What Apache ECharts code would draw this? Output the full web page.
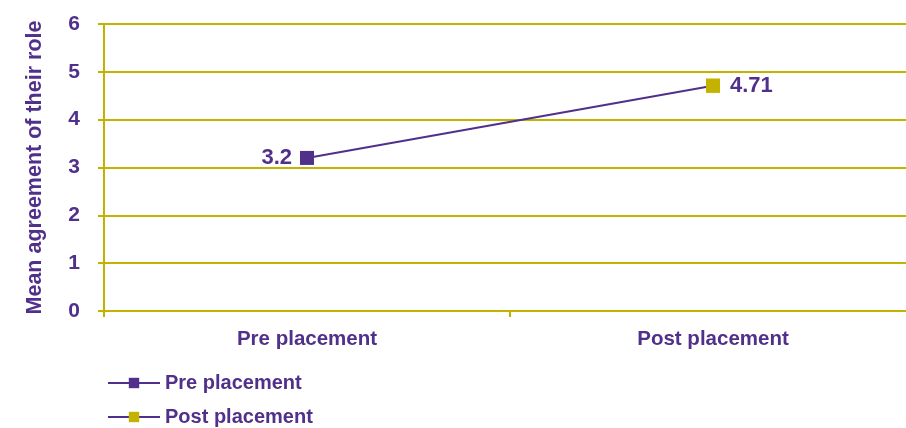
<!DOCTYPE html>
<html><head><meta charset="utf-8">
<script src="https://cdn.jsdelivr.net/npm/echarts@6/dist/echarts.min.js"></script>
<style>html,body{margin:0;padding:0;background:#fff;overflow:hidden;width:906px;height:428px}#c{width:916px;height:428px}</style>
</head><body><div id="c"></div>
<script>
const categories = ['Pre placement', 'Post placement'];
const values = [3.2, 4.71];
const yTicks = [0, 1, 2, 3, 4, 5, 6];
const seriesNames = ['Pre placement', 'Post placement'];

const PURPLE = '#50308A';
const YELLOW = '#C4B200';
const FONT = 'Liberation Sans, Arial, sans-serif';

const legendText = { color: PURPLE, fontSize: 20, fontWeight: 'bold', fontFamily: FONT };
const chart = echarts.init(document.getElementById('c'));
chart.setOption({
  animation: false,
  grid: { left: 104, top: 24, right: 0, bottom: 117, containLabel: false },
  legend: [
    { left: 107, top: 373, padding: 0, itemWidth: 52, itemHeight: 13, itemGap: 8, data: [seriesNames[0]], textStyle: legendText },
    { left: 107, top: 407, padding: 0, itemWidth: 52, itemHeight: 13, itemGap: 8, data: [seriesNames[1]], textStyle: legendText }
  ],
  xAxis: {
    type: 'category', data: categories, boundaryGap: true,
    axisLine: { lineStyle: { color: YELLOW, width: 2 } },
    axisTick: { show: true, length: 6, lineStyle: { color: YELLOW, width: 2 } },
    axisLabel: { color: PURPLE, fontSize: 20.5, fontWeight: 'bold', fontFamily: FONT, margin: 18 }
  },
  yAxis: {
    type: 'value', min: yTicks[0], max: yTicks[yTicks.length - 1], interval: 1,
    name: 'Mean agreement of their role', nameLocation: 'middle', nameGap: 58, nameRotate: 90,
    nameTextStyle: { color: PURPLE, fontSize: 21.5, fontWeight: 'bold', fontFamily: FONT },
    axisLine: { show: true, lineStyle: { color: YELLOW, width: 2 } },
    axisTick: { show: true, length: 6, lineStyle: { color: YELLOW, width: 2 } },
    axisLabel: { color: PURPLE, fontSize: 21, fontWeight: 'bold', fontFamily: FONT, margin: 24 },
    splitLine: { lineStyle: { color: YELLOW, width: 2 } }
  },
  series: [
    {
      name: seriesNames[0], type: 'line', symbol: 'rect', symbolSize: 14,
      lineStyle: { color: PURPLE, width: 2 },
      itemStyle: { color: PURPLE },
      data: [
        { value: values[0], label: { show: true, position: 'left', distance: 8 } },
        { value: values[1], itemStyle: { color: YELLOW }, label: { show: true, position: 'right', distance: 10 } }
      ],
      label: { color: PURPLE, fontSize: 22, fontWeight: 'bold', fontFamily: FONT },
      z: 3
    },
    {
      name: seriesNames[1], type: 'line', symbol: 'rect', symbolSize: 14,
      lineStyle: { color: PURPLE, width: 2 },
      itemStyle: { color: YELLOW },
      data: ['-', values[1]],
      z: 4
    }
  ]
});
</script></body></html>
